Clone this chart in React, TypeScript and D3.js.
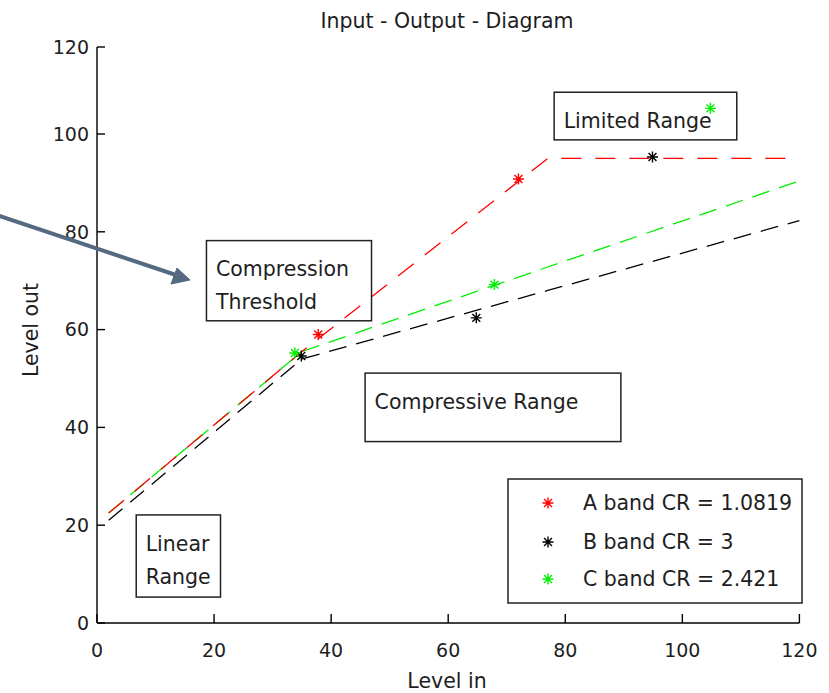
import React from "react";
import * as d3 from "d3";

// input / output levels
const levelIn = [2, 35, 77, 120];
const aBandOut = [22.5, 55.5, 95, 95];
const bBandOut = [21, 54, 68, 82.3];
const cBandOut = [22.5, 55.5, 72.8, 90.4];

// asterisk markers
const aMarkX = [37.8, 72];
const aMarkY = [59, 90.8];
const bMarkX = [34.9, 64.8, 94.9];
const bMarkY = [54.6, 62.4, 95.3];
const cMarkX = [33.8, 67.9, 104.8];
const cMarkY = [55.2, 69.2, 105.9];

const xTicks = [0, 20, 40, 60, 80, 100, 120];
const yTicks = [0, 20, 40, 60, 80, 100, 120];

const legendLabels = ["A band CR = 1.0819", "B band CR = 3", "C band CR = 2.421"];
const colors = ["#ff0000", "#000000", "#00ee00"];

// annotation boxes in data units: [x0, x1, y0, y1]
const notes = [
  { lines: ["Compression", "Threshold"], box: [18.7, 46.9, 61.8, 78.2] },
  { lines: ["Limited Range"], box: [78.1, 109.3, 98.8, 109.6] },
  { lines: ["Compressive Range"], box: [45.8, 89.5, 37.1, 51.1] },
  { lines: ["Linear", "Range"], box: [6.7, 21.1, 5.3, 22.1] },
];

const font = "DejaVu Sans, sans-serif";

function Star({ cx, cy, color }) {
  const r = 5.5;
  const d = r * 0.72;
  return (
    <path
      d={`M${cx - r},${cy}L${cx + r},${cy}M${cx},${cy - r}L${cx},${cy + r}M${cx - d},${cy - d}L${cx + d},${cy + d}M${cx - d},${cy + d}L${cx + d},${cy - d}`}
      stroke={color}
      strokeWidth={1.4}
      fill="none"
    />
  );
}

export default function App() {
  const width = 829;
  const height = 693;

  const x = d3.scaleLinear().domain([0, 120]).range([97, 799.4]);
  const y = d3.scaleLinear().domain([0, 100, 120]).range([623, 134, 47]);

  const line = d3
    .line<number>()
    .x((d, i) => x(levelIn[i]))
    .y((d) => y(d));

  const series = [aBandOut, bBandOut, cBandOut];
  const marks = [
    [aMarkX, aMarkY],
    [bMarkX, bMarkY],
    [cMarkX, cMarkY],
  ];

  const textColor = "#1e1e1e";

  return (
    <svg
      width={width}
      height={height}
      style={{ position: "absolute", left: 0, top: 0, background: "#fff" }}
      fontFamily={font}
    >
      {/* title */}
      <text x={447} y={28} textAnchor="middle" fontSize={20.5} fill={textColor}>
        Input - Output - Diagram
      </text>

      {/* lines, drawn C, B, A so red sits on top in the linear part */}
      {[2, 1, 0].map((k) => (
        <path
          key={k}
          d={line(series[k]) || ""}
          fill="none"
          stroke={colors[k]}
          strokeWidth={1.3}
          strokeDasharray={k === 0 ? "20,14" : "18,10"}
        />
      ))}

      {/* markers */}
      {marks.map(([mx, my], k) =>
        mx.map((v, i) => <Star key={`${k}-${i}`} cx={x(v)} cy={y(my[i])} color={colors[k]} />)
      )}

      {/* annotation boxes */}
      {notes.map((n, i) => {
        const [x0, x1, y0, y1] = n.box;
        const bx = x(x0);
        const by = y(y1);
        const bw = x(x1) - x(x0);
        const bh = y(y0) - y(y1);
        return (
          <g key={i}>
            <rect x={bx} y={by} width={bw} height={bh} fill="none" stroke="#222" strokeWidth={1.5} />
            {n.lines.map((t, j) => (
              <text
                key={j}
                x={bx + 9.5}
                y={by + 28.5 + j * 33}
                dy="0.36em"
                fontSize={20.5}
                fill={textColor}
              >
                {t}
              </text>
            ))}
          </g>
        );
      })}

      {/* axes */}
      <g stroke="#000" strokeWidth={1.4} fill="none">
        <line x1={x(0)} x2={x(120)} y1={y(0)} y2={y(0)} />
        <line x1={x(0)} x2={x(0)} y1={y(0)} y2={y(120)} />
        {xTicks.map((t) => (
          <line key={t} x1={x(t)} x2={x(t)} y1={y(0)} y2={y(0) - 9} />
        ))}
        {yTicks.map((t) => (
          <line key={t} x1={x(0)} x2={x(0) + 8} y1={y(t)} y2={y(t)} />
        ))}
      </g>
      {xTicks.map((t) => (
        <text key={t} x={x(t)} y={650} dy="0.36em" textAnchor="middle" fontSize={19} fill={textColor}>
          {t}
        </text>
      ))}
      {yTicks.map((t) => (
        <text key={t} x={89} y={y(t)} dy="0.36em" textAnchor="end" fontSize={19} fill={textColor}>
          {t}
        </text>
      ))}
      <text x={447} y={681} dy="0.36em" textAnchor="middle" fontSize={20.5} fill={textColor}>
        Level in
      </text>
      <text
        transform={`translate(31,330) rotate(-90)`}
        dy="0.36em"
        textAnchor="middle"
        fontSize={20.5}
        fill={textColor}
      >
        Level out
      </text>

      {/* legend */}
      <rect x={508} y={479} width={294} height={124} fill="#fff" stroke="#222" strokeWidth={1.5} />
      {legendLabels.map((l, i) => {
        const ly = [503, 542, 579][i];
        return (
          <g key={l}>
            <Star cx={548} cy={ly} color={colors[i]} />
            <text x={583} y={ly} dy="0.36em" fontSize={20.5} fill={textColor}>
              {l}
            </text>
          </g>
        );
      })}

      {/* arrow pointing at the knee */}
      <g fill="#536a80" stroke="#536a80">
        <line x1={-2} y1={215.5} x2={176} y2={275} strokeWidth={4} />
        <polygon points="190,280 171,284 177,268" strokeWidth={1} />
      </g>
    </svg>
  );
}
